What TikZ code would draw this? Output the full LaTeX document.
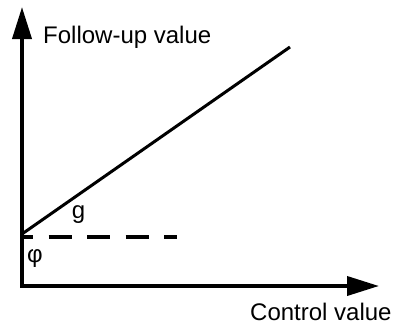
\documentclass[tikz,border=0pt]{standalone}
\usepackage{fontspec}
\setmainfont{Liberation Sans}
\usetikzlibrary{arrows.meta}
\begin{document}
\begin{tikzpicture}[x=1pt,y=-1pt,
  axis/.style={line width=3.8pt,-{Triangle[length=32pt,width=19pt]}},
  graphline/.style={line width=3pt},
  refline/.style={line width=3.6pt,dash pattern=on 23pt off 15.5pt,dash phase=12pt},
  lbl/.style={font=\fontsize{24}{28}\selectfont,inner sep=0pt}]
\useasboundingbox (0,0) rectangle (393,324);
\coordinate (O) at (22,286);
\coordinate (ytip) at (22,7);
\coordinate (xtip) at (379,286);
\coordinate (gstart) at (22,234);
\coordinate (gend) at (290,47);
\coordinate (dstart) at (22,237);
\coordinate (dend) at (177,237);
\draw[axis] ([yshift=1.9pt]O) -- (ytip);
\draw[axis] ([xshift=-1.9pt]O) -- (xtip);
\draw[graphline] (gstart) -- (gend);
\draw[refline] (dstart) -- (dend);
\node[lbl,anchor=base west] (ylab) at (43,43) {Follow-up value};
\node[lbl,anchor=base west] (xlab) at (250,320) {Control value};
\node[lbl] (glab) at (78.5,215) {g};
\node[lbl] (philab) at (35,259) {φ};
\end{tikzpicture}
\end{document}
